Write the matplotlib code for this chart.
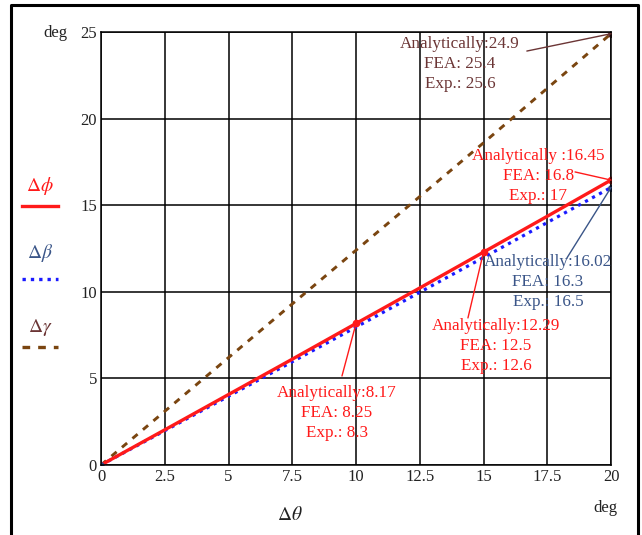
import matplotlib
matplotlib.use("Agg")
import matplotlib.pyplot as plt
from matplotlib.lines import Line2D

plt.rcParams['font.family'] = ['Liberation Serif', 'DejaVu Serif']
plt.rcParams['mathtext.fontset'] = 'stix'

# data
theta = [0, 2.5, 5, 7.5, 10, 12.5, 15, 17.5, 20]
d_phi = [0, 2.03, 4.07, 6.11, 8.17, 10.22, 12.29, 14.36, 16.45]
d_beta = [0, 1.98, 3.97, 5.96, 7.96, 9.97, 11.98, 14.0, 16.02]
d_gamma = [0, 3.1, 6.2, 9.3, 12.4, 15.5, 18.6, 21.75, 24.9]

xticks = [0, 2.5, 5, 7.5, 10, 12.5, 15, 17.5, 20]
xtick_labels = ['0', '2.5', '5', '7.5', '10', '12.5', '15', '17.5', '20']
yticks = [0, 5, 10, 15, 20, 25]

RED = '#ff1a1a'
BLUE = '#1a1aff'
BROWN = '#7a4510'
TXT_BROWN = '#6b3535'
TXT_BLUE = '#3a5588'

fig = plt.figure(figsize=(6.42, 5.35), dpi=100)
ax = fig.add_axes([101 / 642, 1 - 465 / 535, 510 / 642, 433 / 535])

ax.plot(theta, d_gamma, color=BROWN, lw=2.1, linestyle=(0, (2.3, 2.4)))
ax.plot(theta, d_beta, color=BLUE, lw=2.3, linestyle=(0, (1, 1.5)))
ax.plot(theta, d_phi, color=RED, lw=2.4)

# marked points
ax.plot([10, 15, 20], [d_phi[4], d_phi[6], d_phi[8]], 'o', color=RED, ms=4.5)
ax.plot([20], [d_beta[8]], 'o', color='#2a4a90', ms=4)
ax.plot([20], [d_gamma[8]], 'o', color='#5a2a2a', ms=4)
ax.plot([0], [0], 'o', color='#2a4a90', ms=3.5)

ax.set_xlim(0, 20)
ax.set_ylim(0, 25)
ax.set_xticks(xticks)
ax.set_xticklabels(xtick_labels)
ax.set_yticks(yticks)
ax.tick_params(length=0, labelsize=12, colors='#222222', pad=3)
ax.grid(True, color='black', lw=1.1)
for s in ax.spines.values():
    s.set_linewidth(1.1)

fs = 12.3
notes = [
    ("Analytically:24.9\nFEA: 25.4\nExp.: 25.6", 14.08, 23.15, TXT_BROWN, (16.7, 23.9), (20, 24.9)),
    ("Analytically :16.45\nFEA: 16.8\nExp.: 17", 17.14, 16.69, RED, (18.59, 16.92), (20, 16.45)),
    ("Analytically:16.02\nFEA: 16.3\nExp.: 16.5", 17.53, 10.57, TXT_BLUE, (18.27, 11.95), (20, 16.02)),
    ("Analytically:12.29\nFEA: 12.5\nExp.: 12.6", 15.49, 6.87, RED, (14.39, 8.49), (15, 12.29)),
    ("Analytically:8.17\nFEA: 8.25\nExp.: 8.3", 9.25, 3.0, RED, (9.45, 5.14), (10, 8.17)),
]
for txt, tx, ty, c, start, end in notes:
    ax.text(tx, ty, txt, color=c, fontsize=fs, ha='center', va='center',
            linespacing=1.32)
    ax.annotate('', xy=end, xytext=start,
                arrowprops=dict(arrowstyle='-', color=c, lw=1.0,
                                shrinkA=0, shrinkB=0))

# unit and axis labels
fig.text(55 / 642, 1 - 33 / 535, 'deg', fontsize=12, ha='center', va='center', color='#222222')
fig.text(605 / 642, 1 - 508 / 535, 'deg', fontsize=12, ha='center', va='center', color='#222222')
fig.text(290 / 642, 1 - 515 / 535, r'$\Delta\theta$', fontsize=14, ha='center', va='center', color='#222222')

# legend in left margin
legend = [
    (r'$\Delta\phi$', RED, RED, '-', 186, 206),
    (r'$\Delta\beta$', TXT_BLUE, BLUE, (0, (1, 1.5)), 253, 279),
    (r'$\Delta\gamma$', TXT_BROWN, BROWN, (0, (2.3, 2.4)), 327, 347),
]
for lab, tc, lc, ls, ty, ly in legend:
    fig.text(40 / 642, 1 - ty / 535, lab, fontsize=14, color=tc, ha='center', va='center')
    fig.add_artist(Line2D([22 / 642, 58 / 642], [1 - ly / 535] * 2, color=lc,
                          lw=2.4, linestyle=ls, transform=fig.transFigure))

# outer frame (left, top, right)
fx = [11 / 642, 11 / 642, 638 / 642, 638 / 642]
fy = [0, 1 - 5 / 535, 1 - 5 / 535, 0]
fig.add_artist(Line2D(fx, fy, color='black', lw=2.2, transform=fig.transFigure))

fig.savefig('out.png', dpi=100)
